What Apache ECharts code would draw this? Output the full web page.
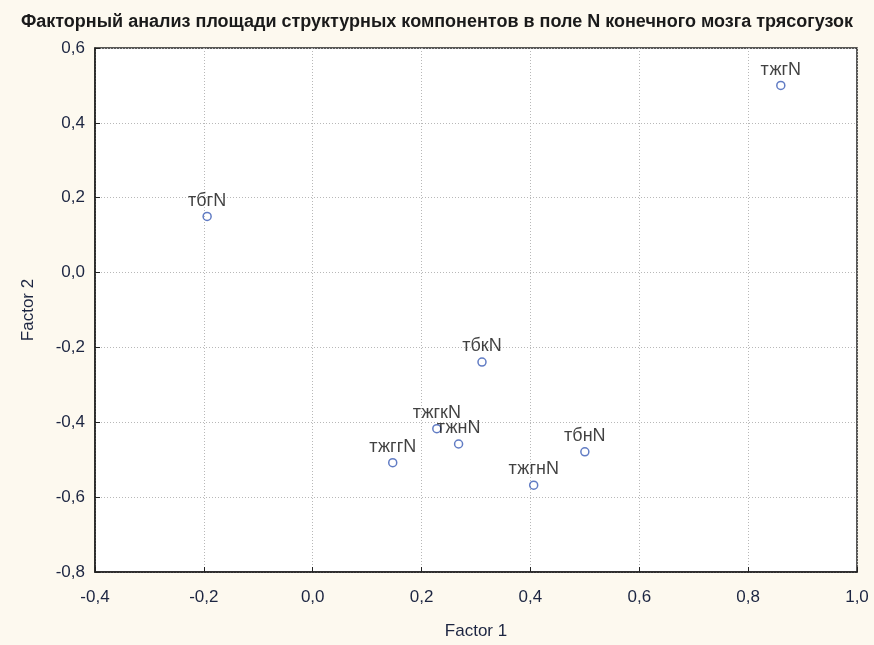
<!DOCTYPE html>
<html><head><meta charset="utf-8">
<script src="https://cdn.jsdelivr.net/npm/echarts@6/dist/echarts.min.js"></script>
<style>html,body{margin:0;padding:0;background:#fdf9ef;}#c{width:874px;height:645px;}</style>
</head><body><div id="c"></div>
<script>
const names = ['тжгN','тбгN','тбкN','тжгкN','тжнN','тжггN','тбнN','тжгнN'];
const factor1 = [0.860, -0.194, 0.311, 0.228, 0.268, 0.147, 0.500, 0.406];
const factor2 = [0.500, 0.150, -0.239, -0.417, -0.458, -0.508, -0.479, -0.568];
const xTicks = [-0.4, -0.2, 0.0, 0.2, 0.4, 0.6, 0.8, 1.0];
const yTicks = [-0.8, -0.6, -0.4, -0.2, 0.0, 0.2, 0.4, 0.6];
const title = 'Факторный анализ площади структурных компонентов в поле N конечного мозга трясогузок';

const fmt = v => v.toFixed(1).replace('.', ',');
const data = names.map((n, i) => ({ name: n, value: [factor1[i], factor2[i]] }));
const chart = echarts.init(document.getElementById('c'));
const FF = 'Arial, Liberation Sans';
const tickLabel = { color: '#1c2541', fontFamily: FF, fontSize: 17, formatter: fmt };
chart.setOption({
  backgroundColor: '#fdf9ef',
  animation: false,
  title: { text: title, left: 'center', top: 8,
    textStyle: { fontFamily: FF, fontSize: 18, fontWeight: 'bold', color: '#1a1a1a' } },
  grid: { left: 95, right: 17, top: 48, bottom: 71, show: true, backgroundColor: '#ffffff', borderColor: '#222', borderWidth: 1.5 },
  xAxis: { type: 'value', min: xTicks[0], max: xTicks[xTicks.length - 1], interval: 0.2,
    name: 'Factor 1', nameLocation: 'middle', nameGap: 51,
    nameTextStyle: { fontFamily: FF, fontSize: 17, color: '#1c2541' },
    axisLine: { show: true, onZero: false, lineStyle: { color: '#222', width: 1.5 } },
    axisTick: { show: true, inside: true, length: 5, lineStyle: { color: '#222' } },
    axisLabel: Object.assign({ margin: 17 }, tickLabel),
    splitLine: { show: true, lineStyle: { color: '#b8b8b8', type: [1, 2], width: 1 } } },
  yAxis: { type: 'value', min: yTicks[0], max: yTicks[yTicks.length - 1], interval: 0.2,
    name: 'Factor 2', nameLocation: 'middle', nameGap: 58,
    nameTextStyle: { fontFamily: FF, fontSize: 17, color: '#1c2541' },
    axisLine: { show: true, onZero: false, lineStyle: { color: '#222', width: 1.5 } },
    axisTick: { show: true, inside: true, length: 5, lineStyle: { color: '#222' } },
    axisLabel: Object.assign({ margin: 10 }, tickLabel),
    splitLine: { show: true, lineStyle: { color: '#b8b8b8', type: [1, 2], width: 1 } } },
  series: [{
    type: 'scatter', data: data, symbol: 'circle', symbolSize: 8,
    itemStyle: { color: 'rgba(0,0,0,0)', borderColor: '#3a5bb5', borderWidth: 1.5 },
    label: { show: true, position: 'top', distance: 2, formatter: p => p.name,
      fontFamily: FF, fontSize: 18, color: '#111' }
  }]
});
</script></body></html>
